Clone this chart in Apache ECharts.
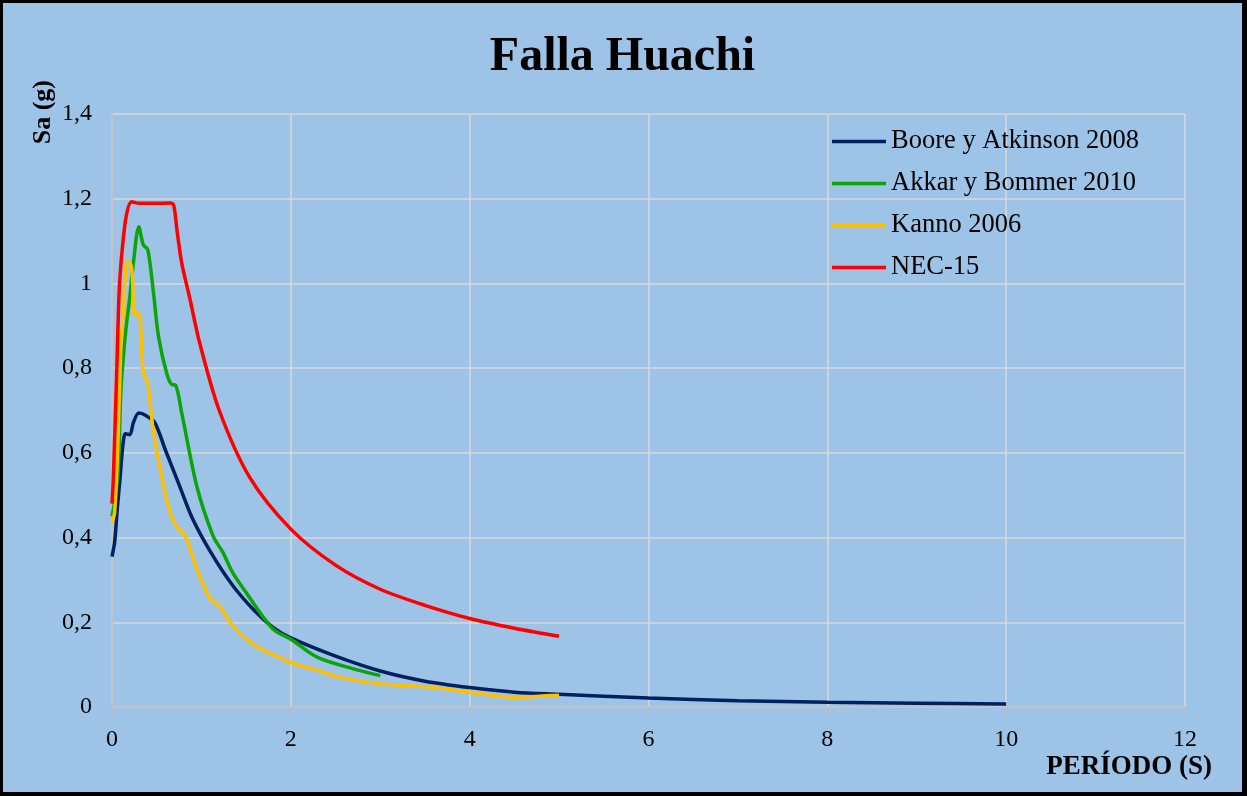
<!DOCTYPE html>
<html>
<head>
<meta charset="utf-8">
<script src="https://cdn.jsdelivr.net/npm/echarts@6/dist/echarts.min.js"></script>
<style>
html,body{margin:0;padding:0;background:#9DC3E6;}
#wrap{width:1247px;height:796px;box-sizing:border-box;border:3px solid #000;border-right-width:5px;border-bottom-width:4px;background:#9DC3E6;}
#chart{width:100%;height:100%;}
</style>
</head>
<body>
<div id="wrap"><div id="chart"></div></div>
<script>
const titleText = 'Falla Huachi';
const yAxisTitle = 'Sa (g)';
const xAxisTitle = 'PERÍODO (S)';
const seriesNames = ['Boore y Atkinson 2008', 'Akkar y Bommer 2010', 'Kanno 2006', 'NEC-15'];

const booreData = [[0,0.355],[0.03,0.39],[0.06,0.47],[0.09,0.54],[0.12,0.615],[0.15,0.645],[0.2,0.643],[0.24,0.672],[0.3,0.694],[0.38,0.688],[0.48,0.671],[0.6,0.605],[0.75,0.525],[0.9,0.445],[1.1,0.367],[1.35,0.287],[1.6,0.226],[1.8,0.188],[2.0,0.163],[2.5,0.12],[3.0,0.085],[3.5,0.061],[4.0,0.046],[4.5,0.035],[5.0,0.030],[6,0.021],[7,0.015],[8,0.011],[9,0.009],[10,0.007]];
const akkarData = [[0,0.45],[0.04,0.5],[0.07,0.56],[0.1,0.75],[0.15,0.88],[0.2,0.97],[0.24,1.05],[0.3,1.134],[0.35,1.091],[0.4,1.08],[0.46,0.985],[0.52,0.875],[0.61,0.789],[0.67,0.761],[0.71,0.76],[0.78,0.694],[0.95,0.52],[1.13,0.404],[1.24,0.365],[1.35,0.317],[1.5,0.27],[1.8,0.184],[2.0,0.16],[2.3,0.117],[2.7,0.09],[3.0,0.074]];
const kannoData = [[0,0.435],[0.03,0.46],[0.07,0.65],[0.1,0.86],[0.12,0.91],[0.17,1.052],[0.21,1.044],[0.23,1.009],[0.25,0.926],[0.3,0.93],[0.35,0.789],[0.4,0.765],[0.46,0.655],[0.56,0.54],[0.65,0.459],[0.72,0.427],[0.82,0.404],[0.95,0.325],[1.1,0.255],[1.2,0.239],[1.35,0.192],[1.6,0.145],[2.0,0.105],[2.25,0.09],[2.55,0.07],[3.0,0.055],[3.6,0.046],[4.0,0.035],[4.5,0.023],[4.9,0.027],[5.0,0.028]];
const necData = [[0,0.48],[0.015,0.54],[0.05,0.77],[0.08,0.98],[0.11,1.07],[0.16,1.16],[0.22,1.193],[0.3,1.189],[0.5,1.189],[0.65,1.19],[0.69,1.185],[0.73,1.12],[0.78,1.048],[0.87,0.965],[0.98,0.86],[1.2,0.70],[1.54,0.542],[2.0,0.42],[2.5,0.335],[3.0,0.278],[3.5,0.24],[4.0,0.209],[4.5,0.186],[5.0,0.167]];

const colors = ['#002060', '#0BA40B', '#FFC000', '#FF0000'];
const font = 'Liberation Serif';

const chart = echarts.init(document.getElementById('chart'));
const datasets = [booreData, akkarData, kannoData, necData];
chart.setOption({
  backgroundColor: '#9DC3E6',
  animation: false,
  title: {
    text: titleText, left: 'center', top: 26,
    textStyle: {fontFamily: font, fontSize: 48, fontWeight: 'bold', color: '#000'}
  },
  legend: {
    orient: 'vertical', left: 824, top: 120, itemGap: 15,
    itemWidth: 54, itemHeight: 3.5,
    icon: 'rect',
    textStyle: {fontFamily: font, fontSize: 26.5, color: '#000'},
    data: seriesNames
  },
  grid: {left: 109, right: 57, top: 111, bottom: 85},
  xAxis: {
    type: 'value', min: 0, max: 12, interval: 2,
    axisLine: {show: true, lineStyle: {color: '#BFBFBF', width: 1.5}},
    axisTick: {show: true, length: 7, lineStyle: {color: '#BFBFBF', width: 1.5}},
    axisLabel: {fontFamily: font, fontSize: 24, color: '#000', margin: 21},
    splitLine: {show: true, lineStyle: {color: '#D9D9D9', width: 1.5}}
  },
  yAxis: {
    type: 'value', min: 0, max: 1.4, interval: 0.2,
    axisLine: {show: true, lineStyle: {color: '#BFBFBF', width: 1.5}},
    axisTick: {show: false},
    axisLabel: {fontFamily: font, fontSize: 24, color: '#000', margin: 20,
      formatter: v => String(Math.round(v * 10) / 10).replace('.', ',')},
    splitLine: {show: true, lineStyle: {color: '#D9D9D9', width: 1.5}}
  },
  graphic: [
    {type: 'text', left: 27, top: 77, rotation: Math.PI / 2,
     style: {text: yAxisTitle, font: 'bold 26px "Liberation Serif"', fill: '#000'}},
    {type: 'text', right: 30, top: 751,
     style: {text: xAxisTitle, font: 'bold 27px "Liberation Serif"', fill: '#000'}}
  ],
  series: datasets.map((d, i) => ({
    name: seriesNames[i], type: 'line', data: d, showSymbol: false, smooth: 0.3,
    lineStyle: {color: colors[i], width: 3.5}, itemStyle: {color: colors[i]}
  }))
});
</script>
</body>
</html>
